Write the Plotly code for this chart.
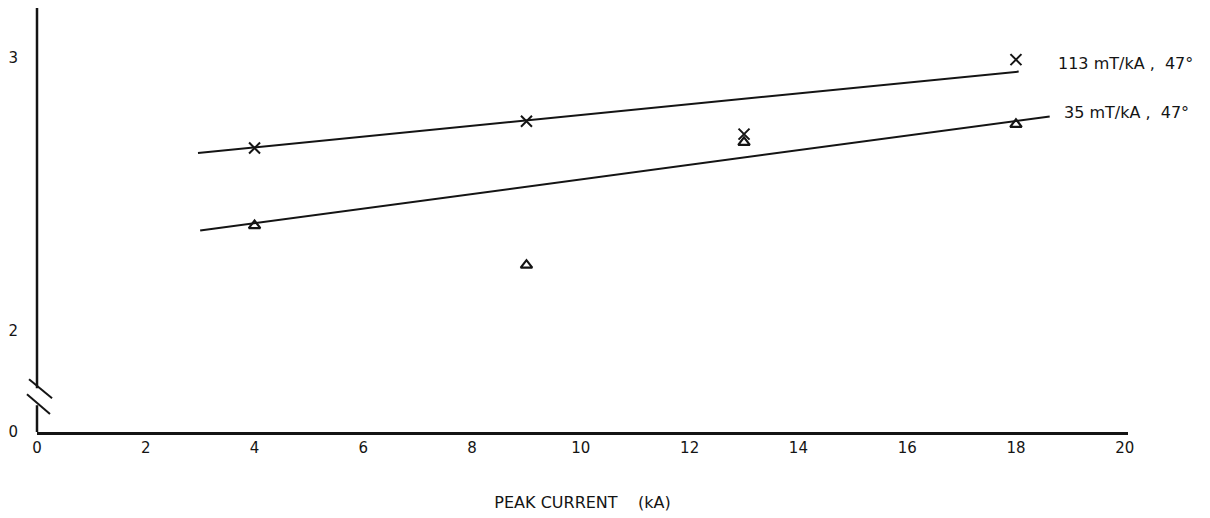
import plotly.graph_objects as go

# Peak current (kA) and measured values for the two field gradients
current_113 = [4, 9, 13, 18]
value_113 = [2.669, 2.767, 2.720, 2.993]

current_35 = [4, 9, 13, 18]
value_35 = [2.385, 2.240, 2.690, 2.756]

# Straight-line fits drawn through each series
fit_113_x = [2.96, 18.05]
fit_113_y = [2.651, 2.949]
fit_35_x = [3.0, 18.62]
fit_35_y = [2.367, 2.785]

series_labels = ["113 mT/kA ,  47°", "35 mT/kA ,  47°"]

x_ticks = [0, 2, 4, 6, 8, 10, 12, 14, 16, 18, 20]
y_tick_labels = ["0", "2", "3"]

# The y axis is broken between 0 and 2: "0" sits just below the break
Y_ZERO_POS = 1.631
y_tick_pos = [Y_ZERO_POS, 2, 3]
Y_RANGE = [1.629, 3.182]
X_RANGE = [0, 20.06]

INK = "#141414"
FONT = "DejaVu Sans"

fig = go.Figure()

fig.add_trace(go.Scatter(x=fit_113_x, y=fit_113_y, mode="lines",
                         line=dict(color=INK, width=2), showlegend=False))
fig.add_trace(go.Scatter(x=fit_35_x, y=fit_35_y, mode="lines",
                         line=dict(color=INK, width=2), showlegend=False))
fig.add_trace(go.Scatter(x=current_113, y=value_113, mode="markers",
                         marker=dict(symbol="x-thin", size=11,
                                     line=dict(color=INK, width=2)),
                         showlegend=False, cliponaxis=False))
fig.add_trace(go.Scatter(x=current_35, y=value_35, mode="markers",
                         marker=dict(symbol="triangle-up-open", size=10,
                                     color=INK, line=dict(color=INK, width=2.2)),
                         showlegend=False, cliponaxis=False))

# Series labels at the right-hand ends of the fitted lines
fig.add_annotation(x=18.73, y=2.978, text=series_labels[0], showarrow=False,
                   xanchor="left", yanchor="middle",
                   font=dict(family=FONT, size=16, color=INK))
fig.add_annotation(x=18.85, y=2.80, text=series_labels[1], showarrow=False,
                   xanchor="left", yanchor="middle",
                   font=dict(family=FONT, size=16, color=INK))

# Y axis drawn in two pieces around the break, plus the break marks
fig.add_shape(type="line", xref="paper", yref="y", x0=0, x1=0,
              y0=Y_RANGE[0], y1=1.727, line=dict(color=INK, width=2.5))
fig.add_shape(type="line", xref="paper", yref="y", x0=0, x1=0,
              y0=1.789, y1=Y_RANGE[1], line=dict(color=INK, width=2.5))
fig.add_shape(type="line", xref="paper", yref="y", x0=-0.0073, x1=0.0138,
              y0=1.822, y1=1.753, line=dict(color=INK, width=2))
fig.add_shape(type="line", xref="paper", yref="y", x0=-0.0092, x1=0.0119,
              y0=1.767, y1=1.695, line=dict(color=INK, width=2))

fig.update_xaxes(range=X_RANGE, tickvals=x_ticks, ticks="", showgrid=False,
                 zeroline=False, showline=True, linecolor=INK, linewidth=2.5,
                 ticklabelstandoff=0,
                 tickfont=dict(family=FONT, size=15, color=INK),
                 title=dict(text="PEAK CURRENT    (kA)", standoff=42,
                            font=dict(family=FONT, size=16, color=INK)))
fig.update_yaxes(range=Y_RANGE, tickvals=y_tick_pos, ticktext=y_tick_labels,
                 ticks="", showgrid=False, zeroline=False, showline=False,
                 ticklabelstandoff=18,
                 tickfont=dict(family=FONT, size=15, color=INK))

fig.update_layout(width=1210, height=518,
                  margin=dict(l=37, r=82, t=8, b=83),
                  plot_bgcolor="white", paper_bgcolor="white")

fig.write_html("out.html")
